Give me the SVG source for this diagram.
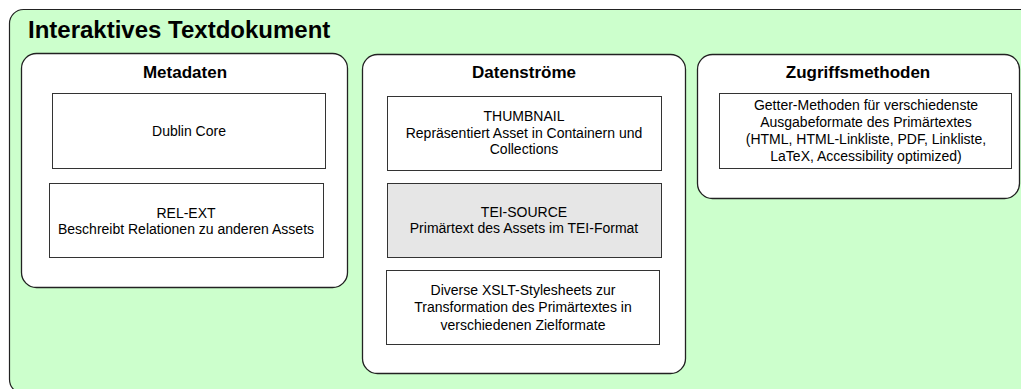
<svg xmlns="http://www.w3.org/2000/svg" width="1021" height="389" viewBox="0 0 1021 389">
  <style>
    .outer { fill: #ccffcc; stroke: #222; stroke-width: 1.2; }
    .group { fill: #ffffff; stroke: #222; stroke-width: 1.3; }
    .box { fill: #ffffff; stroke: #333; stroke-width: 1; }
    .box.grey { fill: #e6e6e6; }
    text { font-family: "Liberation Sans", Arial, sans-serif; fill: #000; text-anchor: middle; }
    .main { font-size: 24px; font-weight: bold; text-anchor: start; }
    .head { font-size: 17px; font-weight: bold; }
    .lbl { font-size: 14px; }
  </style>

  <!-- container -->
  <g id="interaktives-textdokument">
    <rect class="outer" x="9.5" y="9.5" width="1030" height="384" rx="14"/>
    <text class="main" x="28" y="38">Interaktives Textdokument</text>
  </g>

  <!-- Metadaten -->
  <g id="metadaten">
    <rect class="group" x="21.5" y="53.5" width="326" height="234" rx="15"/>
    <text class="head" x="185" y="78">Metadaten</text>
  </g>
  <g id="dublin-core">
    <rect class="box" x="52.5" y="93.5" width="273" height="75"/>
    <text class="lbl" x="189" y="136">Dublin Core</text>
  </g>
  <g id="rel-ext">
    <rect class="box" x="49.5" y="183.5" width="274" height="74"/>
    <text class="lbl" x="186" y="218">REL-EXT</text>
    <text class="lbl" x="186" y="234">Beschreibt Relationen zu anderen Assets</text>
  </g>

  <!-- Datenströme -->
  <g id="datenstroeme">
    <rect class="group" x="362.5" y="54.5" width="323" height="319" rx="15"/>
    <text class="head" x="524" y="78">Datenströme</text>
  </g>
  <g id="thumbnail">
    <rect class="box" x="387.5" y="96.5" width="274" height="74"/>
    <text class="lbl" x="524" y="121">THUMBNAIL</text>
    <text class="lbl" x="524" y="138">Repräsentiert Asset in Containern und</text>
    <text class="lbl" x="524" y="154">Collections</text>
  </g>
  <g id="tei-source">
    <rect class="box grey" x="387.5" y="183.5" width="274" height="74"/>
    <text class="lbl" x="524" y="217">TEI-SOURCE</text>
    <text class="lbl" x="524" y="233">Primärtext des Assets im TEI-Format</text>
  </g>
  <g id="xslt-stylesheets">
    <rect class="box" x="386.5" y="270.5" width="273" height="74"/>
    <text class="lbl" x="523" y="295">Diverse XSLT-Stylesheets zur</text>
    <text class="lbl" x="523" y="312">Transformation des Primärtextes in</text>
    <text class="lbl" x="523" y="330">verschiedenen Zielformate</text>
  </g>

  <!-- Zugriffsmethoden -->
  <g id="zugriffsmethoden">
    <rect class="group" x="697.5" y="54.5" width="322" height="144" rx="15"/>
    <text class="head" x="858" y="78">Zugriffsmethoden</text>
  </g>
  <g id="getter-methoden">
    <rect class="box" x="719.5" y="93.5" width="292" height="75"/>
    <text class="lbl" x="866" y="110">Getter-Methoden für verschiedenste</text>
    <text class="lbl" x="866" y="127">Ausgabeformate des Primärtextes</text>
    <text class="lbl" x="866" y="144">(HTML, HTML-Linkliste, PDF, Linkliste,</text>
    <text class="lbl" x="866" y="161">LaTeX, Accessibility optimized)</text>
  </g>

  <!-- no connectors in this diagram -->
  <g id="connectors"/>
</svg>
